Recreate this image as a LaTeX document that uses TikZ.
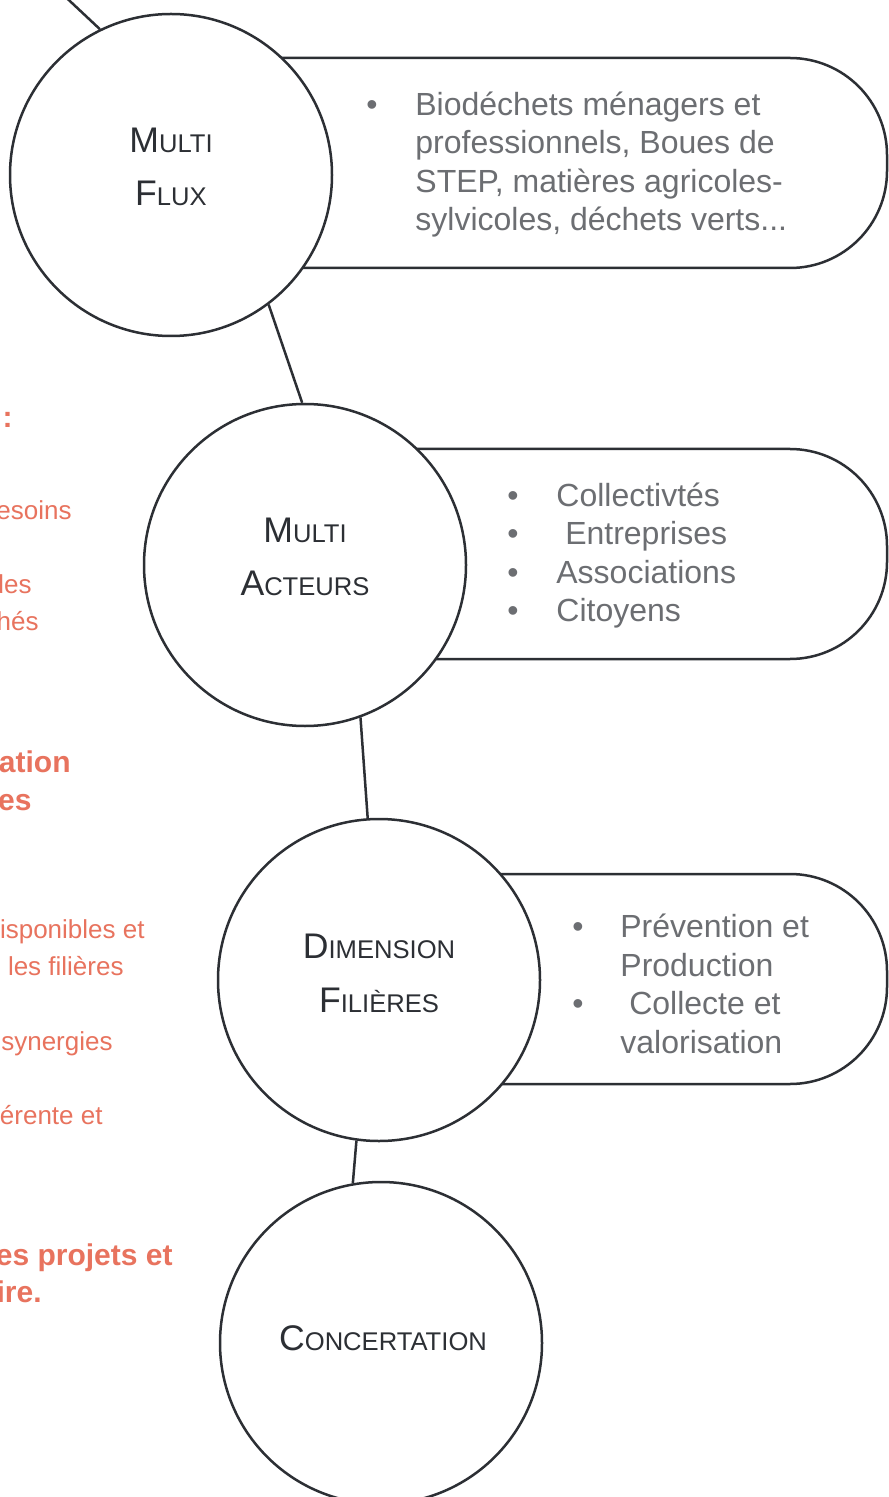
\documentclass[tikz,border=0pt]{standalone}
\usepackage{fontspec}
\setmainfont{Liberation Sans}
\definecolor{ink}{HTML}{2C2F34}
\definecolor{greytxt}{HTML}{6C6E72}
\definecolor{orng}{HTML}{E8735E}
\newcommand\bsc[2]{{\fontsize{17.8}{20}\selectfont #1}{\fontsize{12.8}{20}\selectfont #2}}
\tikzset{
  circ/.style={circle, draw=ink, line width=1.25pt, fill=white, minimum size=161pt, inner sep=0pt},
  pill/.style={draw=ink, line width=1.25pt, rounded corners=48.5pt},
  conn/.style={draw=ink, line width=1.25pt},
  lbl/.style={inner sep=0pt, text=ink, anchor=base},
  listtxt/.style={inner sep=0pt, text=greytxt, anchor=base west, font=\fontsize{16}{19.25}\selectfont},
  orreg/.style={inner sep=0pt, text=orng, anchor=base east, font=\fontsize{13}{18.5}\selectfont},
  orbold/.style={inner sep=0pt, text=orng, anchor=base east, font=\fontsize{15}{19.5}\selectfont\bfseries},
}
\newcommand\blt{\textbullet}
\begin{document}
\begin{tikzpicture}[x=0.5pt,y=-0.5pt]
\useasboundingbox (0,0) rectangle (888,1497);
\fill[white] (0,0) rectangle (888,1497);

% pills
\draw[pill] (171,58) -- (887,58) -- (887,268) -- (171,268);
\draw[pill] (305,449) -- (887,449) -- (887,659) -- (305,659);
\draw[pill] (379,874) -- (887,874) -- (887,1084) -- (379,1084);

% circles
\node[circ] (c1) at (171,175) {};
\node[circ] (c2) at (305,565) {};
\node[circ] (c3) at (379,980) {};
\node[circ] (c4) at (381,1343) {};

% connectors
\coordinate (top) at (40,-27);
\draw[conn] (top) -- (c1.116);
\draw[conn] (c1.-53.6) -- (c2.91.4);
\draw[conn] (c2.-70.2) -- (c3.94.6);
\draw[conn] (c3.-98.5) -- (c4.100.5);

% circle labels
\node[lbl] (l1a) at (171,153) {\bsc{M}{ULTI}};
\node[lbl] (l1b) at (171,206) {\bsc{F}{LUX}};
\node[lbl] (l2a) at (305,542) {\bsc{M}{ULTI}};
\node[lbl] (l2b) at (305,595) {\bsc{A}{CTEURS}};
\node[lbl] (l3a) at (379,958) {\bsc{D}{IMENSION}};
\node[lbl] (l3b) at (379,1012) {\bsc{F}{ILIÈRES}};
\node[lbl] (l4a) at (383,1350) {\bsc{C}{ONCERTATION}};

% lists
\node[listtxt] (t1) at (366,115.5) {\begin{tabular}[t]{@{}p{24.5pt}@{}l@{}}
\blt & Biodéchets ménagers et\\
 & professionnels, Boues de\\
 & STEP, matières agricoles-\\
 & sylvicoles, déchets verts...
\end{tabular}};
\node[listtxt] (t2) at (507,506) {\begin{tabular}[t]{@{}p{24.5pt}@{}l@{}}
\blt & Collectivtés\\
\blt & \ Entreprises\\
\blt & Associations\\
\blt & Citoyens
\end{tabular}};
\node[listtxt] (t3) at (572,937.5) {\begin{tabular}[t]{@{}p{24pt}@{}l@{}}
\blt & Prévention et\\
 & Production\\
\blt & \ Collecte et\\
 & valorisation
\end{tabular}};

% left orange fragments
\node[orbold] (o1) at (13,428) {:};
\node[orreg] (o2) at (72,519) {esoins};
\node[orreg] (o3) at (32,593) {des};
\node[orreg] (o4) at (39,630) {hés};
\node[orbold] (o5) at (71,772) {ation};
\node[orbold] (o6) at (32,810) {es};
\node[orreg] (o7) at (145,938) {isponibles et};
\node[orreg] (o8) at (124,975) {les filières};
\node[orreg] (o9) at (113,1050) {synergies};
\node[orreg] (o10) at (103,1124) {érente et};
\node[orbold] (o11) at (173,1265) {es projets et};
\node[orbold] (o12) at (42,1302) {ire.};
\end{tikzpicture}
\end{document}
